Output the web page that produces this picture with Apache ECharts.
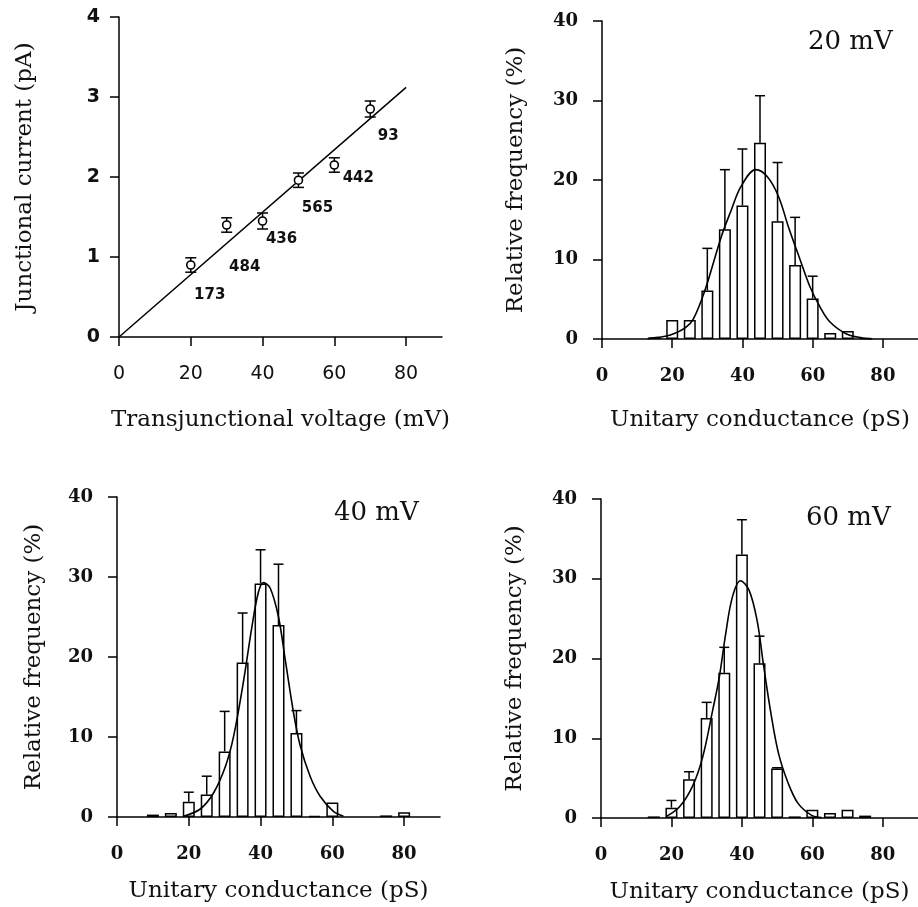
<!DOCTYPE html>
<html><head><meta charset="utf-8">
<script src="https://cdn.jsdelivr.net/npm/echarts@6/dist/echarts.min.js"></script>
<style>html,body{margin:0;padding:0;background:#fff}#c{width:918px;height:907px}</style>
</head><body><div id="c"></div>
<script>
// ---- Panel A: I-V relation ----
const voltage = [20, 30, 40, 50, 60, 70];
const current = [0.90, 1.40, 1.45, 1.96, 2.15, 2.85];
const currentErr = [0.09, 0.09, 0.10, 0.09, 0.09, 0.10];
const nEvents = ['173', '484', '436', '565', '442', '93'];
const fitVoltage = [0, 80];
const fitCurrent = [0, 3.12];
const ivXTicks = [0, 20, 40, 60, 80];
const ivYTicks = [0, 1, 2, 3, 4];

// ---- Histograms ----
const histXTicks = [0, 20, 40, 60, 80];
const histYTicks = [0, 10, 20, 30, 40];

const bins20 = [15, 20, 25, 30, 35, 40, 45, 50, 55, 60, 65, 70, 75];
const freq20 = [0.2, 2.4, 2.4, 6.1, 13.8, 16.8, 24.7, 14.8, 9.3, 5.1, 0.75, 1.0, 0.1];
const errTop20 = [null, null, null, 11.4, 21.3, 23.9, 30.6, 22.2, 15.3, 7.9, null, null, null];
const fitX20 = [13, 16, 19.5, 23.7, 26, 29.3, 34, 36.8, 39.6, 43.8, 47.1, 50.3, 53.1, 56.4, 59.2, 62, 64.8, 69.5, 74.1, 77];
const fitY20 = [0.05, 0.2, 0.5, 1.4, 2.5, 6.1, 12.9, 16.2, 19.2, 21.3, 20.4, 17.9, 14.1, 10.0, 6.6, 4.1, 2.2, 0.67, 0.13, 0];

const bins40 = [10, 15, 20, 25, 30, 35, 40, 45, 50, 55, 60, 75, 80];
const freq40 = [0.3, 0.5, 1.9, 2.8, 8.2, 19.3, 29.2, 24.0, 10.5, 0.15, 1.8, 0.2, 0.6];
const errTop40 = [null, null, 3.1, 5.1, 13.2, 25.5, 33.4, 31.6, 13.3, null, null, null, null];
const fitX40 = [18.6, 23.2, 26.9, 30.2, 32.5, 35.3, 37.6, 39.4, 40.8, 42.7, 45.0, 46.9, 49.2, 51.0, 53.8, 56.6, 60.3, 63.1];
const fitY40 = [0.1, 1.0, 3.0, 6.3, 10.1, 17.1, 23.8, 28.1, 29.3, 28.6, 25.0, 19.6, 13.0, 9.0, 5.1, 2.6, 0.7, 0.1];

const bins60 = [15, 20, 25, 30, 35, 40, 45, 50, 55, 60, 65, 70, 75];
const freq60 = [0.2, 1.3, 4.85, 12.55, 18.2, 33.05, 19.4, 6.2, 0.2, 1.05, 0.63, 1.05, 0.3];
const errTop60 = [null, 2.2, 5.8, 14.5, 21.4, 37.4, 22.8, 6.3, null, null, null, null, null];
const fitX60 = [18.6, 22.3, 26.1, 28.9, 31.7, 33.6, 35.4, 37.3, 39.6, 42.0, 44.3, 46.2, 48.1, 50.4, 53.2, 56.0, 59.8, 62.6];
const fitY60 = [0.2, 1.4, 4.1, 7.7, 13.5, 17.7, 23.1, 27.7, 29.75, 28.6, 24.8, 19.0, 13.5, 8.1, 4.3, 1.8, 0.33, 0.05];

const panelLabels = ['20 mV', '40 mV', '60 mV'];

// ---- styling ----
const SERIF = 'DejaVu Serif';
const SANS = 'DejaVu Sans';
const axisLine = { show: true, onZero: false, lineStyle: { color: '#000', width: 1.5 } };
const axisTick = (vals) => ({ show: true, length: 9, customValues: vals, lineStyle: { color: '#000', width: 1.5 } });
const titleStyle = { fontFamily: SERIF, fontSize: 23, color: '#111' };

const grids = [
  { left: 119, top: 17, width: 323, height: 320 },
  { left: 602, top: 21, width: 321, height: 318 },
  { left: 117, top: 497, width: 323, height: 320 },
  { left: 601, top: 499, width: 320, height: 319 }
];

function histX(gi, nameGap) {
  return {
    type: 'value', gridIndex: gi, min: 0, max: 90,
    axisLine, axisTick: axisTick(histXTicks), splitLine: { show: false },
    axisLabel: { customValues: histXTicks, margin: 28, fontFamily: SERIF, fontWeight: 'bold', fontSize: 18, color: '#111' },
    name: 'Unitary conductance (pS)', nameLocation: 'middle', nameGap, nameTextStyle: titleStyle
  };
}
function histY(gi, nameGap) {
  return {
    type: 'value', gridIndex: gi, min: 0, max: 40, interval: 10,
    axisLine, axisTick: axisTick(histYTicks), splitLine: { show: false },
    axisLabel: { margin: 24, fontFamily: SERIF, fontWeight: 'bold', fontSize: 18, color: '#111' },
    name: 'Relative frequency (%)', nameLocation: 'middle', nameGap, nameTextStyle: titleStyle
  };
}

const xAxes = [
  {
    type: 'value', gridIndex: 0, min: 0, max: 90,
    axisLine, axisTick: axisTick(ivXTicks), splitLine: { show: false },
    axisLabel: { customValues: ivXTicks, margin: 28, fontFamily: SANS, fontSize: 19, color: '#111' },
    name: 'Transjunctional voltage (mV)', nameLocation: 'middle', nameGap: 72, nameTextStyle: titleStyle
  },
  histX(1, 70), histX(2, 63), histX(3, 63)
];
const yAxes = [
  {
    type: 'value', gridIndex: 0, min: 0, max: 4, interval: 1,
    axisLine, axisTick: axisTick(ivYTicks), splitLine: { show: false },
    axisLabel: { margin: 19, fontFamily: SANS, fontWeight: 'bold', fontSize: 19, color: '#111' },
    name: 'Junctional current (pA)', nameLocation: 'middle', nameGap: 82, nameTextStyle: titleStyle
  },
  histY(1, 74), histY(2, 71), histY(3, 74)
];

function errUp(params, api) {
  const x = api.value(0), y = api.value(1), top = api.value(2);
  const p0 = api.coord([x, y]), p1 = api.coord([x, top]);
  const hw = 5;
  const st = { stroke: '#000', lineWidth: 1.5 };
  return { type: 'group', children: [
    { type: 'line', shape: { x1: p0[0], y1: p0[1], x2: p1[0], y2: p1[1] }, style: st },
    { type: 'line', shape: { x1: p1[0] - hw, y1: p1[1], x2: p1[0] + hw, y2: p1[1] }, style: st }
  ] };
}
function errBoth(params, api) {
  const x = api.value(0), lo = api.value(1), hi = api.value(2);
  const p0 = api.coord([x, lo]), p1 = api.coord([x, hi]);
  const hw = 5.5;
  const st = { stroke: '#000', lineWidth: 1.5 };
  return { type: 'group', children: [
    { type: 'line', shape: { x1: p0[0], y1: p0[1], x2: p1[0], y2: p1[1] }, style: st },
    { type: 'line', shape: { x1: p0[0] - hw, y1: p0[1], x2: p0[0] + hw, y2: p0[1] }, style: st },
    { type: 'line', shape: { x1: p1[0] - hw, y1: p1[1], x2: p1[0] + hw, y2: p1[1] }, style: st }
  ] };
}

function histSeries(gi, bins, freq, errTop, fx, fy) {
  return [
    {
      type: 'bar', xAxisIndex: gi, yAxisIndex: gi, barWidth: 12,
      data: bins.map((b, i) => [b, freq[i]]),
      itemStyle: { color: '#fff', borderColor: '#000', borderWidth: 1.5 }, z: 2, silent: true
    },
    {
      type: 'custom', xAxisIndex: gi, yAxisIndex: gi, renderItem: errUp, z: 3, silent: true,
      data: bins.map((b, i) => [b, freq[i], errTop[i]]).filter(d => d[2] != null)
    },
    {
      type: 'line', xAxisIndex: gi, yAxisIndex: gi, smooth: 0.35, showSymbol: false, z: 4, silent: true,
      data: fx.map((x, i) => [x, fy[i]]),
      lineStyle: { color: '#000', width: 1.6 }
    }
  ];
}

// label offsets (px) for event counts beside each point
const nLabelOffsets = [[19, 30], [18, 42], [19, 18], [19, 28], [24, 13], [18, 27]];

const series = [
  {
    type: 'line', xAxisIndex: 0, yAxisIndex: 0, showSymbol: false, silent: true, z: 2,
    data: fitVoltage.map((v, i) => [v, fitCurrent[i]]),
    lineStyle: { color: '#000', width: 1.5 }
  },
  {
    type: 'custom', xAxisIndex: 0, yAxisIndex: 0, renderItem: errBoth, z: 3, silent: true,
    data: voltage.map((v, i) => [v, current[i] - currentErr[i], current[i] + currentErr[i]])
  },
  {
    type: 'scatter', xAxisIndex: 0, yAxisIndex: 0, symbol: 'circle', symbolSize: 8, z: 4, silent: true,
    itemStyle: { color: '#fff', borderColor: '#000', borderWidth: 1.6, opacity: 1 },
    data: voltage.map((v, i) => ({
      value: [v, current[i]],
      label: {
        show: true, formatter: nEvents[i], position: 'inside', offset: nLabelOffsets[i],
        fontFamily: SANS, fontWeight: 'bold', fontSize: 15, color: '#111'
      }
    }))
  },
  ...histSeries(1, bins20, freq20, errTop20, fitX20, fitY20),
  ...histSeries(2, bins40, freq40, errTop40, fitX40, fitY40),
  ...histSeries(3, bins60, freq60, errTop60, fitX60, fitY60)
];

const labelStyle = { fontFamily: SERIF, fontSize: 26, fill: '#111' };
const option = {
  animation: false,
  backgroundColor: '#fff',
  grid: grids,
  xAxis: xAxes,
  yAxis: yAxes,
  series,
  graphic: [
    { type: 'text', left: 808, top: 29, style: Object.assign({ text: panelLabels[0] }, labelStyle) },
    { type: 'text', left: 334, top: 500, style: Object.assign({ text: panelLabels[1] }, labelStyle) },
    { type: 'text', left: 806, top: 505, style: Object.assign({ text: panelLabels[2] }, labelStyle) }
  ]
};
const chart = echarts.init(document.getElementById('c'), null, { renderer: 'canvas' });
chart.setOption(option);
</script>
</body></html>
